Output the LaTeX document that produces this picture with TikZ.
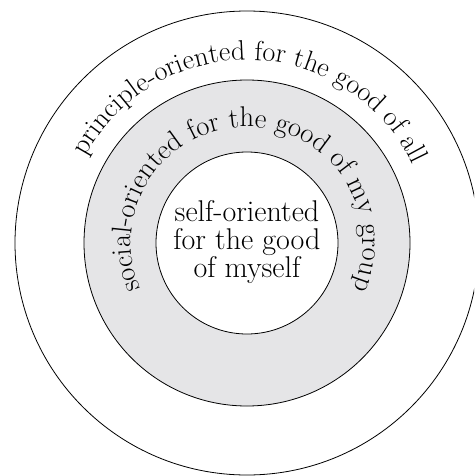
\documentclass[tikz,border=0pt]{standalone}
\usetikzlibrary{decorations.text}
\definecolor{ringgray}{RGB}{229,229,231}
\begin{document}
\begin{tikzpicture}[x=1pt,y=1pt,
  ring/.style={circle, draw=black, line width=0.8pt, inner sep=0pt},
  arclabel/.style={decorate, decoration={text along path, text align=center, text={#1}}}]
\useasboundingbox (0,0) rectangle (474,-476);
\clip (0,0) rectangle (474,-476);
\coordinate (c) at (247,-243);
\node[ring, minimum size=464pt, fill=white] (outer) at (c) {};
\node[ring, minimum size=326pt, fill=ringgray] (middle) at (c) {};
\node[ring, minimum size=182pt, fill=white] (inner) at (c) {};
\node[align=center, font=\fontsize{30}{28}\selectfont] (self) at ([yshift=1]c) {self-oriented\\for the good\\of myself};
\path[arclabel={|\fontsize{28}{30}\selectfont|principle-oriented for the good of all}]
  (c) ++(160:183) arc[start angle=160, end angle=17, radius=183];
\path[arclabel={|\fontsize{28.5}{30}\selectfont|social-oriented for the good of my group}]
  (c) ++(210:116) arc[start angle=210, end angle=-30, radius=116];
\end{tikzpicture}
\end{document}
